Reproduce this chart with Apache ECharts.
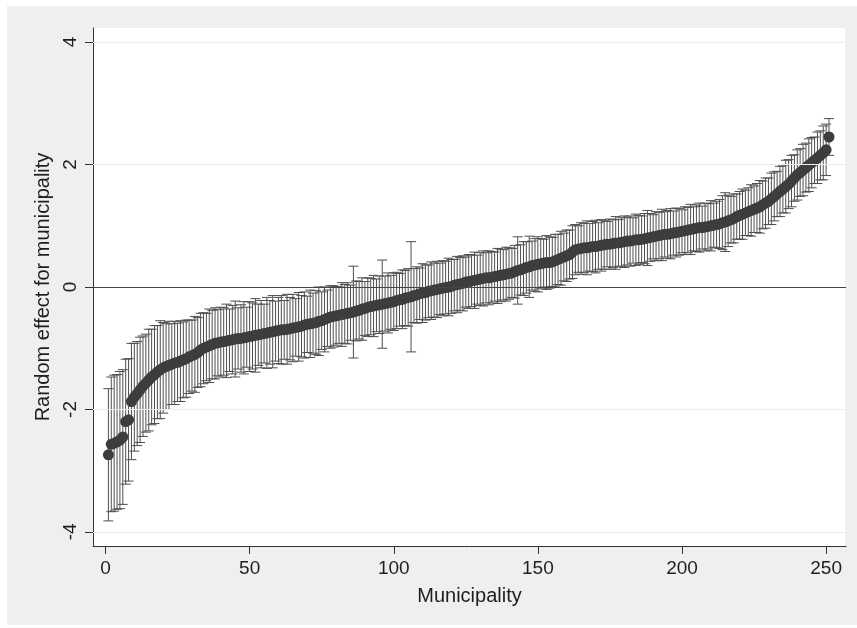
<!DOCTYPE html>
<html lang="en">
<head>
  <meta charset="UTF-8">
  <title>Random effect for municipality</title>
  <script src="https://cdn.jsdelivr.net/npm/echarts@6/dist/echarts.min.js"></script>
  <style>
    html, body { margin: 0; padding: 0; background: #ffffff; }
  </style>
</head>
<body>
<div id="main" style="width: 857px;height:628px;"></div>
<script type="text/javascript">
  // municipalities ranked by their estimated random effect (rank 1..251)
  const effect = [
    -2.74, -2.57, -2.55, -2.53, -2.50, -2.45, -2.20, -2.17, -1.87, -1.80,
    -1.74, -1.68, -1.62, -1.57, -1.52, -1.47, -1.43, -1.39, -1.35, -1.32,
    -1.30, -1.28, -1.26, -1.24, -1.23, -1.21, -1.19, -1.17, -1.14, -1.12,
    -1.10, -1.07, -1.03, -1.00, -0.98, -0.96, -0.94, -0.92, -0.91, -0.90,
    -0.89, -0.88, -0.87, -0.86, -0.85, -0.84, -0.84, -0.83, -0.82, -0.81,
    -0.80, -0.79, -0.78, -0.77, -0.76, -0.75, -0.74, -0.73, -0.72, -0.71,
    -0.70, -0.70, -0.69, -0.68, -0.67, -0.66, -0.65, -0.64, -0.62, -0.61,
    -0.60, -0.59, -0.58, -0.56, -0.55, -0.53, -0.51, -0.49, -0.48, -0.47,
    -0.46, -0.45, -0.44, -0.43, -0.42, -0.41, -0.39, -0.38, -0.36, -0.35,
    -0.33, -0.32, -0.31, -0.30, -0.29, -0.28, -0.27, -0.26, -0.25, -0.24,
    -0.22, -0.21, -0.20, -0.18, -0.17, -0.16, -0.14, -0.13, -0.11, -0.10,
    -0.09, -0.07, -0.06, -0.05, -0.04, -0.03, -0.02, -0.01, 0.00, 0.01,
    0.03, 0.04, 0.05, 0.06, 0.08, 0.09, 0.10, 0.11, 0.12, 0.13,
    0.14, 0.15, 0.15, 0.16, 0.17, 0.18, 0.19, 0.20, 0.21, 0.22,
    0.23, 0.25, 0.27, 0.28, 0.30, 0.32, 0.33, 0.35, 0.36, 0.37,
    0.38, 0.39, 0.40, 0.40, 0.41, 0.43, 0.45, 0.47, 0.49, 0.51,
    0.53, 0.57, 0.61, 0.62, 0.63, 0.64, 0.64, 0.65, 0.66, 0.66,
    0.67, 0.68, 0.69, 0.70, 0.70, 0.71, 0.72, 0.72, 0.73, 0.74,
    0.75, 0.75, 0.76, 0.77, 0.77, 0.78, 0.79, 0.80, 0.81, 0.82,
    0.83, 0.84, 0.85, 0.86, 0.86, 0.87, 0.88, 0.89, 0.90, 0.91,
    0.92, 0.93, 0.94, 0.95, 0.96, 0.97, 0.97, 0.98, 0.99, 1.00,
    1.01, 1.02, 1.03, 1.05, 1.06, 1.08, 1.10, 1.12, 1.15, 1.17,
    1.19, 1.21, 1.23, 1.25, 1.27, 1.29, 1.31, 1.34, 1.37, 1.40,
    1.44, 1.48, 1.52, 1.56, 1.60, 1.64, 1.68, 1.73, 1.78, 1.83,
    1.87, 1.91, 1.95, 1.99, 2.03, 2.07, 2.11, 2.15, 2.19, 2.24,
    2.45
  ];
  // half width of the confidence interval for each municipality
  const margin = [
    1.08, 1.10, 1.11, 1.10, 1.12, 1.10, 1.02, 1.00, 0.95, 0.88,
    0.85, 0.86, 0.82, 0.80, 0.83, 0.78, 0.80, 0.76, 0.80, 0.74,
    0.70, 0.72, 0.66, 0.68, 0.64, 0.66, 0.62, 0.63, 0.60, 0.58,
    0.62, 0.57, 0.60, 0.58, 0.55, 0.60, 0.56, 0.58, 0.54, 0.57,
    0.55, 0.60, 0.51, 0.56, 0.62, 0.50, 0.55, 0.59, 0.49, 0.57,
    0.54, 0.60, 0.50, 0.55, 0.48, 0.58, 0.52, 0.59, 0.49, 0.54,
    0.56, 0.48, 0.57, 0.51, 0.55, 0.47, 0.56, 0.50, 0.54, 0.46,
    0.55, 0.49, 0.52, 0.56, 0.47, 0.53, 0.46, 0.51, 0.50, 0.48,
    0.46, 0.52, 0.48, 0.50, 0.45, 0.75, 0.49, 0.47, 0.51, 0.44,
    0.48, 0.46, 0.50, 0.43, 0.47, 0.72, 0.45, 0.49, 0.44, 0.47,
    0.46, 0.43, 0.48, 0.45, 0.47, 0.90, 0.44, 0.46, 0.42, 0.48,
    0.45, 0.43, 0.47, 0.44, 0.46, 0.42, 0.45, 0.43, 0.47, 0.44,
    0.42, 0.46, 0.43, 0.45, 0.41, 0.44, 0.42, 0.46, 0.40, 0.43,
    0.45, 0.41, 0.44, 0.42, 0.40, 0.45, 0.43, 0.41, 0.44, 0.42,
    0.40, 0.43, 0.55, 0.41, 0.44, 0.42, 0.50, 0.40, 0.43, 0.45,
    0.41, 0.39, 0.44, 0.42, 0.40, 0.43, 0.41, 0.44, 0.39, 0.42,
    0.40, 0.43, 0.41, 0.38, 0.42, 0.40, 0.44, 0.39, 0.41, 0.43,
    0.38, 0.42, 0.40, 0.37, 0.41, 0.39, 0.43, 0.38, 0.40, 0.42,
    0.39, 0.41, 0.37, 0.42, 0.40, 0.38, 0.41, 0.45, 0.39, 0.36,
    0.40, 0.38, 0.42, 0.37, 0.39, 0.41, 0.36, 0.40, 0.38, 0.35,
    0.39, 0.37, 0.41, 0.36, 0.38, 0.40, 0.35, 0.39, 0.37, 0.41,
    0.36, 0.38, 0.40, 0.44, 0.48, 0.42, 0.38, 0.40, 0.37, 0.39,
    0.41, 0.37, 0.39, 0.42, 0.38, 0.40, 0.43, 0.39, 0.41, 0.38,
    0.42, 0.40, 0.37, 0.41, 0.39, 0.43, 0.40, 0.42, 0.38, 0.41,
    0.39, 0.42, 0.40, 0.43, 0.41, 0.38, 0.42, 0.40, 0.44, 0.42,
    0.30
  ];
  const xTicks = [0, 50, 100, 150, 200, 250];
  const yTicks = [-4, -2, 0, 2, 4];
  const gridValues = [-4, -2, 2, 4];

  const font = "'Liberation Sans', Arial, Helvetica, sans-serif";

  const points = effect.map(function (v, i) { return [i + 1, v]; });
  const bars = effect.map(function (v, i) {
    return [i + 1, v - margin[i], v + margin[i]];
  });

  var myChart = echarts.init(document.getElementById('main'));
  myChart.setOption({
    animation: false,
    backgroundColor: '#ffffff',
    graphic: [{
      type: 'rect',
      z: -10,
      silent: true,
      shape: { x: 7, y: 6, width: 850, height: 619 },
      style: { fill: '#efefef' }
    }, {
      type: 'rect',
      z: -9,
      silent: true,
      shape: { x: 93, y: 28, width: 752, height: 518 },
      style: { fill: '#ffffff' }
    }],
    grid: { left: 93, right: 11, top: 28, bottom: 82 },
    xAxis: {
      type: 'value',
      min: -4.34,
      max: 256.9,
      name: 'Municipality',
      nameLocation: 'middle',
      nameGap: 40,
      nameTextStyle: { fontFamily: font, fontSize: 20, color: '#1e1e1e' },
      axisLine: { show: true, onZero: false, lineStyle: { color: '#333', width: 1 } },
      axisTick: { show: true, customValues: xTicks, length: 8, lineStyle: { color: '#333' } },
      axisLabel: { customValues: xTicks, margin: 13, fontFamily: font, fontSize: 19, color: '#1e1e1e' },
      splitLine: { show: false }
    },
    yAxis: {
      type: 'value',
      min: -4.23,
      max: 4.23,
      name: 'Random effect for municipality',
      nameLocation: 'middle',
      nameGap: 36,
      nameTextStyle: { fontFamily: font, fontSize: 20, color: '#1e1e1e' },
      axisLine: { show: true, onZero: false, lineStyle: { color: '#333', width: 1 } },
      axisTick: { show: true, customValues: yTicks, length: 8, lineStyle: { color: '#333' } },
      axisLabel: { customValues: yTicks, rotate: 90, margin: 13, fontFamily: font, fontSize: 19, color: '#1e1e1e' },
      splitLine: { show: false }
    },
    series: [
      {
        name: 'lines',
        type: 'line',
        data: [],
        z: 1,
        silent: true,
        markLine: {
          silent: true,
          symbol: 'none',
          label: { show: false },
          animation: false,
          data: gridValues.map(function (v) {
            return { yAxis: v, lineStyle: { color: '#ececec', width: 1, type: 'solid' } };
          }).concat([{ yAxis: 0, lineStyle: { color: '#444', width: 1, type: 'solid' } }])
        }
      },
      {
        name: 'interval',
        type: 'custom',
        z: 2,
        silent: true,
        data: bars,
        encode: { x: 0, y: [1, 2] },
        renderItem: function (params, api) {
          var lo = api.coord([api.value(0), api.value(1)]);
          var hi = api.coord([api.value(0), api.value(2)]);
          var cap = 5;
          var style = { stroke: '#4e4e4e', lineWidth: 1 };
          return {
            type: 'group',
            children: [
              { type: 'line', shape: { x1: lo[0], y1: lo[1], x2: hi[0], y2: hi[1] }, style: style },
              { type: 'line', shape: { x1: lo[0] - cap, y1: lo[1], x2: lo[0] + cap, y2: lo[1] }, style: style },
              { type: 'line', shape: { x1: hi[0] - cap, y1: hi[1], x2: hi[0] + cap, y2: hi[1] }, style: style }
            ]
          };
        }
      },
      {
        name: 'effect',
        type: 'scatter',
        z: 3,
        silent: true,
        data: points,
        symbol: 'circle',
        symbolSize: 11,
        itemStyle: { color: '#3d3d3d', opacity: 1 }
      }
    ]
  });
</script>
</body>
</html>
